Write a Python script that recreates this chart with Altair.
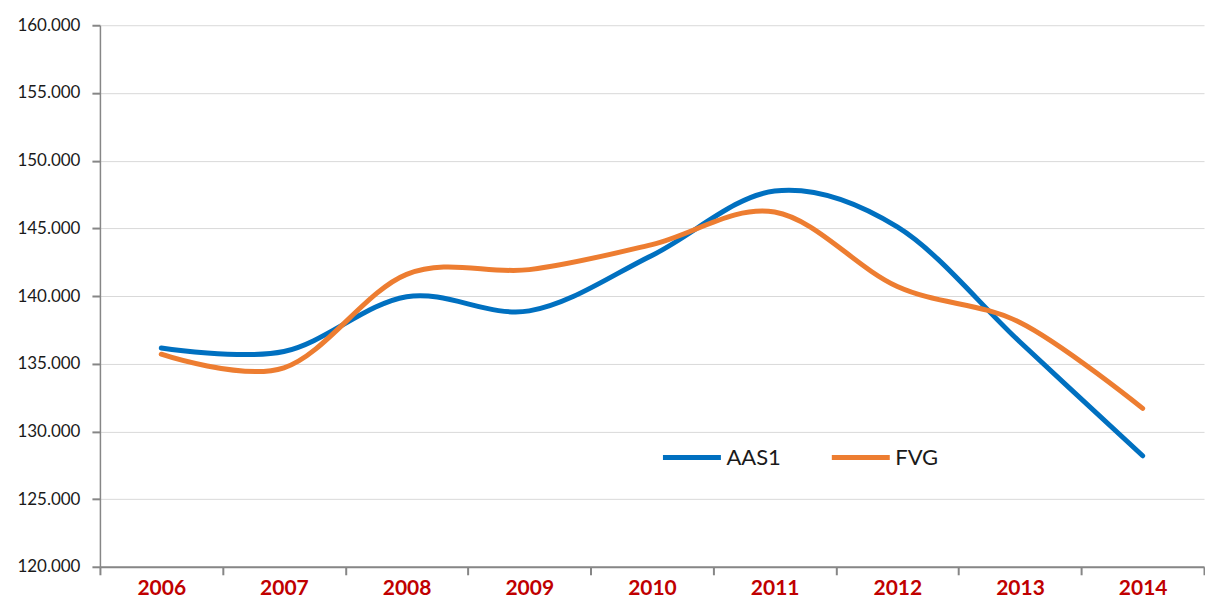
import altair as alt
import pandas as pd

years = ["2006", "2007", "2008", "2009", "2010", "2011", "2012", "2013", "2014"]
aas1 = [136160, 135900, 139950, 138900, 143000, 147750, 145100, 136600, 128200]
fvg = [135700, 134700, 141600, 141950, 143800, 146200, 140700, 138050, 131700]
series_names = ["AAS1", "FVG"]
series_colors = ["#0070C0", "#ED7D31"]
y_ticks = [120000, 125000, 130000, 135000, 140000, 145000, 150000, 155000, 160000]

rows = []
for y, a, f in zip(years, aas1, fvg):
    rows.append({"anno": y, "serie": "AAS1", "valore": a})
    rows.append({"anno": y, "serie": "FVG", "valore": f})
df = pd.DataFrame(rows)

font = "Lato"

chart = alt.Chart(df).mark_line(
    interpolate="cardinal", strokeWidth=5, strokeCap="round", strokeJoin="round"
).encode(
    x=alt.X("anno:N", sort=years, title=None,
            scale=alt.Scale(paddingInner=0, paddingOuter=0),
            axis=alt.Axis(labelAngle=0, labelFont=font, labelFontSize=21,
                          labelFontWeight="bold", labelColor="#C00000",
                          labelPadding=3, tickBand="extent", tickSize=8,
                          tickColor="#868686", tickWidth=2,
                          domainColor="#868686", domainWidth=2,
                          grid=False)),
    y=alt.Y("valore:Q", title=None,
            scale=alt.Scale(domain=[120000, 160000], nice=False, zero=False),
            axis=alt.Axis(values=y_ticks,
                          labelExpr="replace(format(datum.value, ',.0f'), ',', '.')",
                          labelFont=font, labelFontSize=17, labelColor="#1a1a1a",
                          labelPadding=12, tickSize=8, tickColor="#868686",
                          tickWidth=2, domainColor="#868686", domainWidth=1.5,
                          gridColor="#d9d9d9", gridWidth=1,
                          minExtent=92, maxExtent=92)),
    color=alt.Color("serie:N",
                    scale=alt.Scale(domain=series_names, range=series_colors),
                    legend=alt.Legend(title=None, orient="none", direction="horizontal",
                                      legendX=561, legendY=401,
                                      symbolType="stroke", symbolSize=3364,
                                      symbolStrokeWidth=5, labelFont=font,
                                      labelFontSize=22, labelColor="#1a1a1a",
                                      labelOffset=3, columnPadding=40)),
).properties(
    width=1105, height=542,
    padding={"left": 0, "top": 8, "right": 0, "bottom": 0},
).configure_view(stroke=None)

chart.save("out.html", embed_options={"renderer": "svg", "actions": False})
